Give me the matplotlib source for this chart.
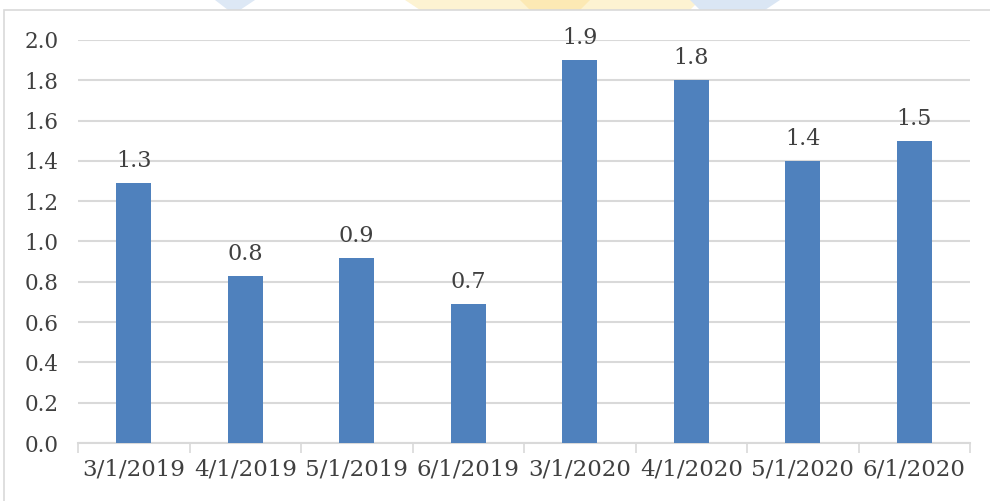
import matplotlib.pyplot as plt
from matplotlib.patches import Rectangle, Polygon

# month-on-month values per period
periods = ["3/1/2019", "4/1/2019", "5/1/2019", "6/1/2019",
           "3/1/2020", "4/1/2020", "5/1/2020", "6/1/2020"]
values = [1.29, 0.83, 0.92, 0.69, 1.90, 1.80, 1.40, 1.50]
yticks = [0.0, 0.2, 0.4, 0.6, 0.8, 1.0, 1.2, 1.4, 1.6, 1.8, 2.0]

W, H = 990, 501
fig = plt.figure(figsize=(W / 100, H / 100), dpi=100)
fig.patch.set_facecolor("white")

txt = "#404040"
grid = "#d9d9d9"
font = "DejaVu Serif"

# faint logo shapes peeking above the chart frame
def px(x, y):
    return (x / W, 1 - y / H)

for pts, col in [
    ([(215, 0), (255, 0), (240, 10), (228, 10)], "#dde8f5"),
    ([(405, 0), (700, 0), (690, 10), (420, 10)], "#fdf3d2"),
    ([(520, 0), (590, 0), (580, 10), (530, 10)], "#fce9b4"),
    ([(690, 0), (780, 0), (765, 10), (700, 10)], "#dae6f4"),
]:
    fig.patches.append(Polygon([px(*p) for p in pts], closed=True,
                               transform=fig.transFigure, facecolor=col,
                               edgecolor="none", zorder=0))

# chart frame
fig.patches.append(Rectangle(px(4, 510), (W + 10) / W, 500 / H,
                             transform=fig.transFigure, fill=False,
                             edgecolor=grid, linewidth=1.2, zorder=1))

ax = fig.add_axes([78 / W, (H - 443) / H, (970 - 78) / W, (443 - 40) / H])
ax.set_facecolor("none")

x = list(range(len(periods)))
ax.bar(x, values, width=0.31, color="#4f81bd", zorder=3)

for xi, v in zip(x, values):
    ax.annotate(f"{v:.1f}", (xi, v), xytext=(0, 8), textcoords="offset points",
                ha="center", va="bottom", fontsize=16, color=txt, family=font)

ax.set_xlim(-0.5, len(periods) - 0.5)
ax.set_ylim(0, 2.0)
ax.set_yticks(yticks)
ax.set_yticklabels([f"{t:.1f}" for t in yticks], fontsize=15.5, color=txt, family=font)
ax.tick_params(axis="y", length=0, pad=14)

ax.set_xticks(x)
ax.set_xticklabels(periods, fontsize=16.5, color=txt, family=font)
ax.tick_params(axis="x", length=0, pad=11)
# category separators below the axis
ax.set_xticks([i - 0.5 for i in range(len(periods) + 1)], minor=True)
ax.tick_params(axis="x", which="minor", length=7, width=1.2, color=grid)

ax.grid(axis="y", color=grid, linewidth=1.5, zorder=0)
for s in ["top", "right", "left"]:
    ax.spines[s].set_visible(False)
ax.spines["bottom"].set_color(grid)
ax.spines["bottom"].set_linewidth(1.5)

fig.savefig("out.png", dpi=100)
